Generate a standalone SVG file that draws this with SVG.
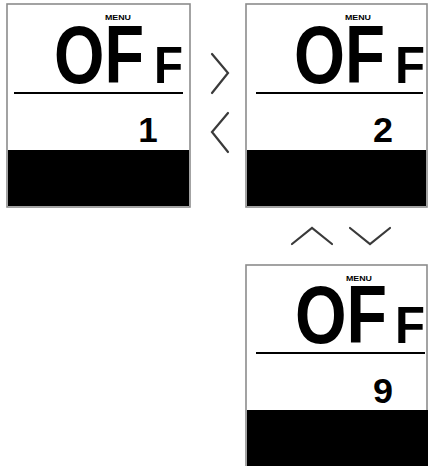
<svg xmlns="http://www.w3.org/2000/svg" width="428" height="466" viewBox="0 0 428 466">
<style>
.frame{fill:#fff;stroke:#8c8c8c;stroke-width:1.6}
.bar{fill:#000}
.rule{stroke:#000;stroke-width:2}
.big{font-family:"Liberation Sans",Arial,sans-serif;font-weight:bold;font-size:81px;fill:#000}
.small{font-family:"Liberation Sans",Arial,sans-serif;font-weight:bold;font-size:52px;fill:#000}
.menu{font-family:"Liberation Sans",Arial,sans-serif;font-weight:bold;font-size:7.5px;fill:#000}
.num{font-family:"Liberation Sans",Arial,sans-serif;font-weight:bold;font-size:35px;fill:#000;text-anchor:middle}
.chev{fill:none;stroke:#3a3a3a;stroke-width:2.2;stroke-linecap:round;stroke-linejoin:miter}
</style>
<rect width="428" height="466" fill="#fff"/>
<g id="panel1">
<rect class="frame" x="7" y="4" width="183" height="203"/>
<rect class="bar" x="8" y="150" width="181" height="56"/>
<line class="rule" x1="14" y1="93" x2="183" y2="93"/>
<text class="menu" x="105" y="20" textLength="26" lengthAdjust="spacingAndGlyphs">MENU</text>
<text class="big" x="54" y="83" textLength="90" lengthAdjust="spacingAndGlyphs">OF</text>
<text class="small" x="154" y="83" textLength="29" lengthAdjust="spacingAndGlyphs">F</text>
<text class="num" x="148" y="142" font-size="37">1</text>
</g>
<g id="panel2">
<rect class="frame" x="246" y="4" width="181" height="203"/>
<rect class="bar" x="247" y="150" width="179" height="56"/>
<line class="rule" x1="256" y1="93" x2="423" y2="93"/>
<text class="menu" x="345" y="20" textLength="26" lengthAdjust="spacingAndGlyphs">MENU</text>
<text class="big" x="294" y="83" textLength="91" lengthAdjust="spacingAndGlyphs">OF</text>
<text class="small" x="395" y="83" textLength="30" lengthAdjust="spacingAndGlyphs">F</text>
<text class="num" x="383" y="142" textLength="20" lengthAdjust="spacingAndGlyphs">2</text>
</g>
<g id="panel3">
<rect class="frame" x="246" y="265" width="181" height="210"/>
<rect class="bar" x="247" y="410" width="181" height="56"/>
<line class="rule" x1="256" y1="353" x2="425" y2="353"/>
<text class="menu" x="346" y="281" textLength="26" lengthAdjust="spacingAndGlyphs">MENU</text>
<text class="big" x="295" y="343" textLength="92" lengthAdjust="spacingAndGlyphs">OF</text>
<text class="small" x="395" y="343" textLength="30" lengthAdjust="spacingAndGlyphs">F</text>
<text class="num" x="383" y="403" font-size="36" textLength="20" lengthAdjust="spacingAndGlyphs">9</text>
</g>
<g id="connectors">
<polyline class="chev" points="212,54 228,73 212,93"/>
<polyline class="chev" points="228,113 212,132 228,152"/>
<polyline class="chev" points="292,244 312,228 332,244"/>
<polyline class="chev" points="350,228 370,244 390,228"/>
</g>
</svg>
